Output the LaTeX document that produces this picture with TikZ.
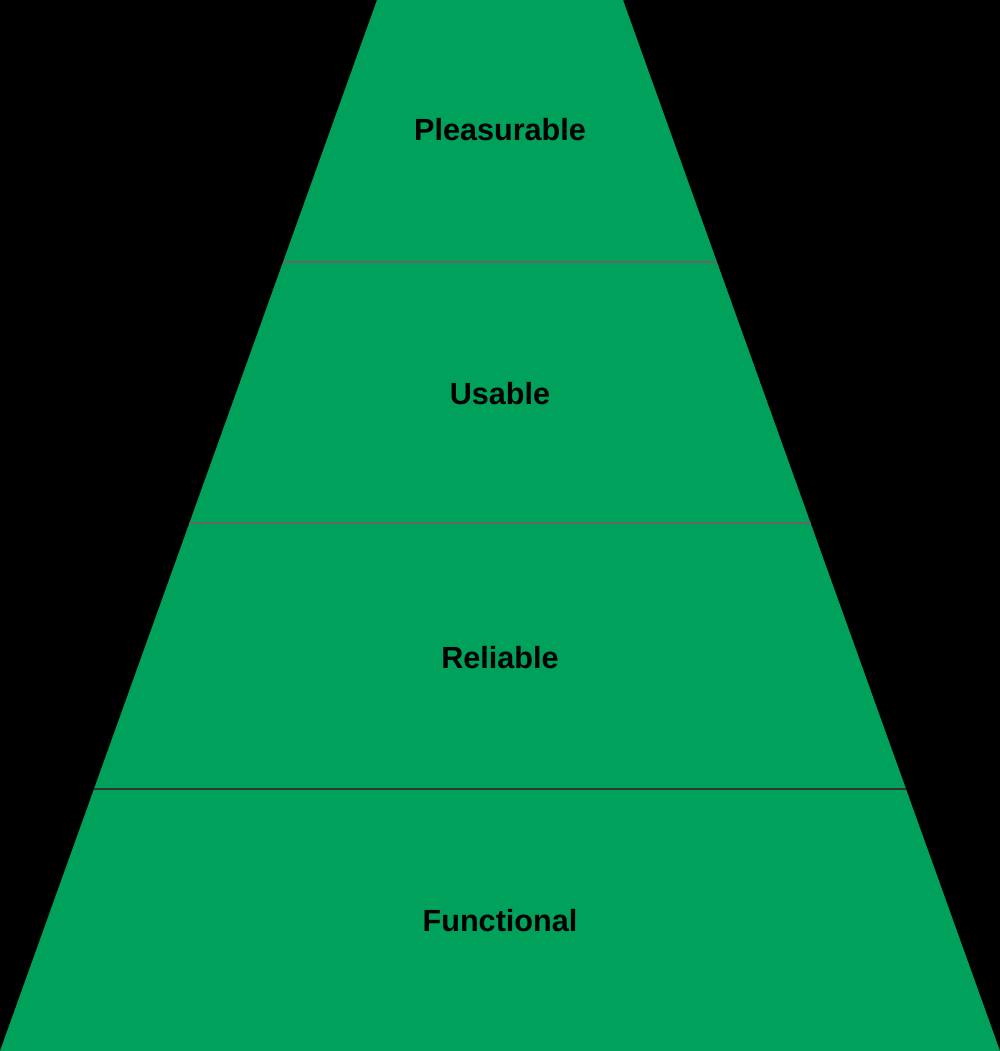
\documentclass[tikz,border=0pt]{standalone}
\usepackage{fontspec}
\setmainfont{Liberation Sans}
\definecolor{pyrgreen}{HTML}{00A15A}
\tikzset{
  layer/.style={fill=pyrgreen},
  sep/.style={draw=black!60,line width=0.6pt},
  lbl/.style={font=\fontsize{15.3pt}{18pt}\selectfont\bfseries,text=black}
}
\begin{document}
\begin{tikzpicture}[x=0.5pt,y=-0.5pt]
				\fill[black](0,0)rectangle(1000,1051);
				\fill[layer](377,0)--(623,0)--(1000,1051)--(0,1051)--cycle;
				\draw[sep](283,262)--(717,262);
				\draw[sep](189.4,523)--(810.6,523);
				\draw[sep,draw=black!80](94,789)--(906,789);
				\node[lbl](pleasurable)at(500,130){Pleasurable};
				\node[lbl](usable)at(500,394){Usable};
				\node[lbl](reliable)at(500,658){Reliable};
				\node[lbl](functional)at(500,921){Functional};
			\end{tikzpicture}
\end{document}
